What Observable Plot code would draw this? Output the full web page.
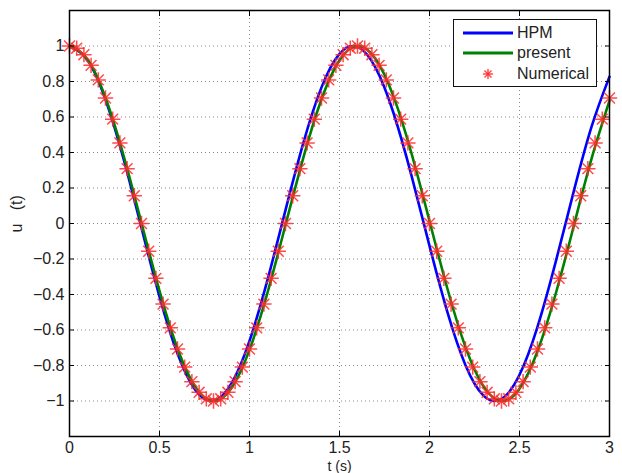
<!DOCTYPE html>
<html>
<head>
<meta charset="utf-8">
<script src="https://cdn.jsdelivr.net/npm/d3@7"></script>
<script src="https://cdn.jsdelivr.net/npm/@observablehq/plot@0.6"></script>
<style>
  html, body { margin: 0; padding: 0; background: #fff; overflow: hidden; }
  #wrap { position: relative; width: 622px; height: 473px; font-family: "Liberation Sans", Arial, sans-serif; }
  #legend { position: absolute; left: 453px; top: 19px; width: 142px; height: 66px; border: 1.5px solid #111; background: #fff; color: #222; font-size: 16px; }
  .row { position: absolute; left: 0; height: 20px; display: flex; align-items: center; }
  .row svg { margin-left: 9px; margin-right: 4px; }
</style>
</head>
<body>
<div id="wrap"><div id="chart"></div><div id="legend"></div></div>
<script>
// ---- data ----
const tLine = [0, 0.1, 0.2, 0.3, 0.4, 0.5, 0.6, 0.7, 0.8, 0.9, 1.0, 1.1, 1.2, 1.3, 1.4, 1.5, 1.6, 1.7, 1.8, 1.9, 2.0, 2.1, 2.2, 2.3, 2.4, 2.5, 2.6, 2.7, 2.8, 2.9, 3.0];
const hpmValues = [1, 0.9214, 0.6981, 0.3652, -0.0252, -0.4116, -0.7333, -0.9399, -0.9987, -0.9007, -0.6612, -0.3178, 0.0755, 0.4570, 0.7668, 0.9559, 0.9949, 0.8777, 0.6225, 0.2696, -0.1257, -0.5012, -0.7980, -0.9695, -0.9886, -0.8524, -0.5823, -0.2207, 0.1755, 0.5442, 0.8274];
const presentValues = [1, 0.9242, 0.7081, 0.3846, 0.0028, -0.3795, -0.7041, -0.9220, -1.0000, -0.9263, -0.7120, -0.3898, -0.0084, 0.3743, 0.7002, 0.9198, 0.9999, 0.9284, 0.7160, 0.3949, 0.0140, -0.3691, -0.6962, -0.9176, -0.9999, -0.9304, -0.7199, -0.4001, -0.0196, 0.3639, 0.6921];
const tNumerical = [0, 0.04, 0.08, 0.12, 0.16, 0.2, 0.24, 0.28, 0.32, 0.36, 0.4, 0.44, 0.48, 0.52, 0.56, 0.6, 0.64, 0.68, 0.72, 0.76, 0.8, 0.84, 0.88, 0.92, 0.96, 1.0, 1.04, 1.08, 1.12, 1.16, 1.2, 1.24, 1.28, 1.32, 1.36, 1.4, 1.44, 1.48, 1.52, 1.56, 1.6, 1.64, 1.68, 1.72, 1.76, 1.8, 1.84, 1.88, 1.92, 1.96, 2.0, 2.04, 2.08, 2.12, 2.16, 2.2, 2.24, 2.28, 2.32, 2.36, 2.4, 2.44, 2.48, 2.52, 2.56, 2.6, 2.64, 2.68, 2.72, 2.76, 2.8, 2.84, 2.88, 2.92, 2.96, 3.0];
const numericalValues = [1, 0.9877, 0.9511, 0.8910, 0.8090, 0.7071, 0.5878, 0.4540, 0.3090, 0.1564, 0, -0.1564, -0.3090, -0.4540, -0.5878, -0.7071, -0.8090, -0.8910, -0.9511, -0.9877, -1, -0.9877, -0.9511, -0.8910, -0.8090, -0.7071, -0.5878, -0.4540, -0.3090, -0.1564, 0, 0.1564, 0.3090, 0.4540, 0.5878, 0.7071, 0.8090, 0.8910, 0.9511, 0.9877, 1, 0.9877, 0.9511, 0.8910, 0.8090, 0.7071, 0.5878, 0.4540, 0.3090, 0.1564, 0, -0.1564, -0.3090, -0.4540, -0.5878, -0.7071, -0.8090, -0.8910, -0.9511, -0.9877, -1, -0.9877, -0.9511, -0.8910, -0.8090, -0.7071, -0.5878, -0.4540, -0.3090, -0.1564, 0, 0.1564, 0.3090, 0.4540, 0.5878, 0.7071];

const seriesNames = ["HPM", "present", "Numerical"];
const seriesColors = ["#0000ff", "#008000", "#ff2a2a"];

const xTicks = [0, 0.5, 1, 1.5, 2, 2.5, 3];
const xTickLabels = ["0", "0.5", "1", "1.5", "2", "2.5", "3"];
const yTicks = [-1, -0.8, -0.6, -0.4, -0.2, 0, 0.2, 0.4, 0.6, 0.8, 1];
const yTickLabels = ["\u22121", "\u22120.8", "\u22120.6", "\u22120.4", "\u22120.2", "0", "0.2", "0.4", "0.6", "0.8", "1"];
const xLabel = "t (s)";
const yLabel = "u\u00a0\u00a0\u00a0(t)";

// ---- build tables ----
const hpm = tLine.map((t, i) => ({t, u: hpmValues[i]}));
const present = tLine.map((t, i) => ({t, u: presentValues[i]}));
const numerical = tNumerical.map((t, i) => ({t, u: numericalValues[i]}));

const font = "'Liberation Sans', Arial, sans-serif";
const gridStyle = {stroke: "#8a8a8a", strokeOpacity: 1, strokeDasharray: "1,3", strokeWidth: 1};

const chart = Plot.plot({
  width: 622,
  height: 473,
  marginLeft: 69,
  marginRight: 13,
  marginTop: 10,
  marginBottom: 37,
  style: {fontFamily: font, fontSize: "16px", color: "#222", background: "white", overflow: "visible"},
  x: {domain: [0, 3]},
  y: {domain: [-1.2, 1.2]},
  marks: [
    Plot.gridX(xTicks, gridStyle),
    Plot.gridY(yTicks, gridStyle),
    Plot.line(hpm, {x: "t", y: "u", stroke: seriesColors[0], strokeWidth: 2.6, curve: "natural"}),
    Plot.line(present, {x: "t", y: "u", stroke: seriesColors[1], strokeWidth: 2.6, curve: "natural"}),
    Plot.dot(numerical, {x: "t", y: "u", symbol: "plus", stroke: seriesColors[2], strokeWidth: 1.5, r: 5, strokeOpacity: 0.85}),
    Plot.dot(numerical, {x: "t", y: "u", symbol: "times", stroke: seriesColors[2], strokeWidth: 1.5, r: 5, strokeOpacity: 0.85}),
    Plot.frame({stroke: "#000", strokeWidth: 1.5}),
    Plot.axisX({anchor: "bottom", ticks: xTicks, tickSize: -5, tickPadding: 10, stroke: "#000", fill: "#222",
      tickFormat: d => xTickLabels[xTicks.indexOf(d)], label: null}),
    Plot.axisX({anchor: "top", ticks: xTicks, tickSize: -5, stroke: "#000", fill: "none", label: null}),
    Plot.axisY({anchor: "left", ticks: yTicks, tickSize: -5, tickPadding: 10, stroke: "#000", fill: "#222",
      tickFormat: d => yTickLabels[yTicks.indexOf(d)], label: null}),
    Plot.axisY({anchor: "right", ticks: yTicks, tickSize: -5, stroke: "#000", fill: "none", label: null}),
    Plot.text([xLabel], {text: d => d, frameAnchor: "bottom", dy: 34, lineAnchor: "bottom", fill: "#222", fontSize: 14}),
    Plot.text([yLabel], {text: d => d, frameAnchor: "left", dx: -53, dy: 9, rotate: -90, fill: "#222", fontSize: 16})
  ]
});
document.getElementById("chart").appendChild(chart);

// ---- legend overlay ----
const legend = document.getElementById("legend");
const rowTops = [3, 23, 44];
seriesNames.forEach((name, i) => {
  const row = document.createElement("div");
  row.className = "row";
  row.style.top = rowTops[i] + "px";
  let sample;
  if (i < 2) {
    sample = `<svg width="50" height="14"><line x1="0" y1="7" x2="50" y2="7" stroke="${seriesColors[i]}" stroke-width="3"/></svg>`;
  } else {
    sample = `<svg width="50" height="14"><g stroke="${seriesColors[i]}" stroke-width="1.5" stroke-opacity="0.85">
      <line x1="25" y1="2" x2="25" y2="12"/><line x1="20" y1="7" x2="30" y2="7"/>
      <line x1="21.5" y1="3.5" x2="28.5" y2="10.5"/><line x1="21.5" y1="10.5" x2="28.5" y2="3.5"/></g></svg>`;
  }
  row.innerHTML = sample + `<span>${name}</span>`;
  legend.appendChild(row);
});
</script>
</body>
</html>
